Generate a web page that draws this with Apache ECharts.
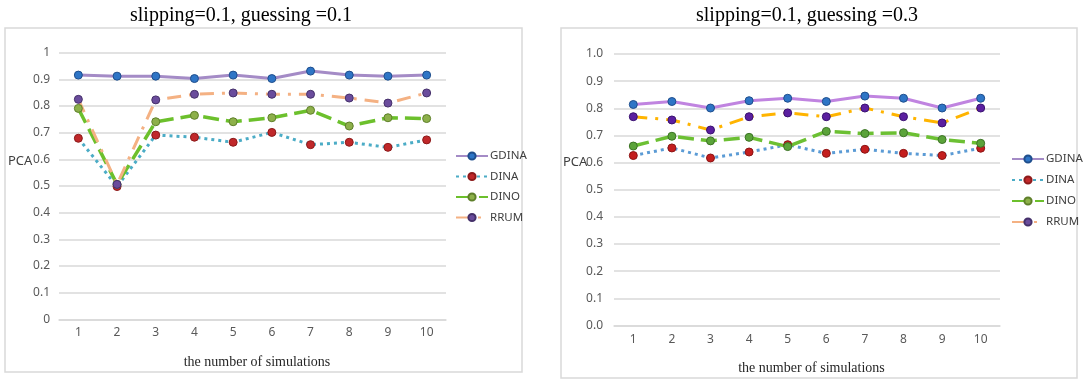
<!DOCTYPE html>
<html>
<head>
<meta charset="utf-8">
<script src="https://cdn.jsdelivr.net/npm/echarts@6/dist/echarts.min.js"></script>
<style>
html,body{margin:0;padding:0;background:#fff;}
#c{width:1084px;height:383px;}
</style>
</head>
<body>
<div id="c"></div>
<script>
// ---- data ----
var categories = ['1','2','3','4','5','6','7','8','9','10'];
var leftYTicks = ['0','0.1','0.2','0.3','0.4','0.5','0.6','0.7','0.8','0.9','1'];
var rightYTicks = ['0.0','0.1','0.2','0.3','0.4','0.5','0.6','0.7','0.8','0.9','1.0'];
var seriesNames = ['GDINA','DINA','DINO','RRUM'];

// slipping=0.1, guessing=0.1
var leftGDINA = [0.916,0.912,0.912,0.903,0.916,0.903,0.931,0.916,0.912,0.916];
var leftDINA  = [0.679,0.498,0.691,0.683,0.664,0.701,0.655,0.664,0.645,0.673];
var leftDINO  = [0.791,0.506,0.741,0.765,0.741,0.756,0.784,0.725,0.756,0.753];
var leftRRUM  = [0.825,0.506,0.823,0.844,0.849,0.844,0.844,0.830,0.811,0.849];

// slipping=0.1, guessing=0.3
var rightGDINA = [0.814,0.825,0.801,0.828,0.837,0.825,0.845,0.837,0.801,0.837];
var rightDINA  = [0.626,0.654,0.617,0.639,0.666,0.634,0.649,0.634,0.626,0.653];
var rightDINO  = [0.661,0.697,0.680,0.693,0.659,0.715,0.707,0.710,0.685,0.671];
var rightRRUM  = [0.769,0.757,0.720,0.769,0.783,0.769,0.801,0.769,0.746,0.801];

var titles = ['slipping=0.1, guessing =0.1', 'slipping=0.1, guessing =0.3'];
var xName = 'the number of simulations';
var yName = 'PCA';

// ---- styles ----
var sansFont = '"Noto Sans", "Liberation Sans", sans-serif';
var serifFont = '"Liberation Serif", "DejaVu Serif", serif';
var gridColor = '#D9D9D9';
var labelColor = '#595959';

var styles = [
  { // left chart
    GDINA: {line:'#A48BC6', fill:'#2E75C6', border:'#1F4E8C', type:'solid', width:3},
    DINA:  {line:'#4BACC6', fill:'#C0282A', border:'#8C1A1A', type:[3,4], width:3},
    DINO:  {line:'#6CC02C', fill:'#8DB04A', border:'#5E7F2A', type:[16,7], width:3.5},
    RRUM:  {line:'#F4B183', fill:'#6A4C9C', border:'#45306A', type:[14,8,3,8], width:3}
  },
  { // right chart
    GDINA: {line:'#C084E0', fill:'#2E75C6', border:'#1F4E8C', type:'solid', width:3},
    DINA:  {line:'#5B9BD5', fill:'#C41E1E', border:'#8C1414', type:[3,4], width:3},
    DINO:  {line:'#6CC033', fill:'#5BA33A', border:'#3D7426', type:[16,7], width:3.5},
    RRUM:  {line:'#FFB400', fill:'#5B1FA0', border:'#3A1270', type:[14,8,3,8], width:3}
  }
];

var dataSets = [
  {GDINA:leftGDINA, DINA:leftDINA, DINO:leftDINO, RRUM:leftRRUM},
  {GDINA:rightGDINA, DINA:rightDINA, DINO:rightDINO, RRUM:rightRRUM}
];

var series = [];
for (var g = 0; g < 2; g++) {
  seriesNames.forEach(function(n){
    var s = styles[g][n];
    series.push({
      name: n,
      type: 'line',
      xAxisIndex: g, yAxisIndex: g,
      data: dataSets[g][n],
      symbol: 'circle',
      symbolSize: 8,
      showSymbol: true,
      animation: false,
      lineStyle: {color: s.line, width: s.width, type: s.type},
      itemStyle: {color: s.fill, borderColor: s.border, borderWidth: 1},
      emphasis: {disabled: true}
    });
  });
}

function yAxisCfg(g, ticks, margin) {
  return {
    type: 'value', gridIndex: g, min: 0, max: 1, interval: 0.1,
    axisLine: {show: false}, axisTick: {show: false},
    splitLine: {lineStyle: {color: gridColor, width: 1.5}},
    axisLabel: {
      color: labelColor, fontFamily: sansFont, fontSize: 12, margin: margin,
      formatter: function(v){ return ticks[Math.round(v*10)]; }
    }
  };
}
function xAxisCfg(g, margin) {
  return {
    type: 'category', gridIndex: g, data: categories, boundaryGap: true,
    axisLine: {show: true, lineStyle: {color: gridColor, width: 1.5}},
    axisTick: {show: false},
    axisLabel: {color: labelColor, fontFamily: sansFont, fontSize: 12, margin: margin},
    name: xName, nameLocation: 'middle', nameGap: 36,
    nameTextStyle: {color: '#262626', fontFamily: serifFont, fontSize: 14, padding: [0,0,0,9]}
  };
}

var option = {
  backgroundColor: '#ffffff',
  animation: false,
  title: [
    {text: titles[0], left: 236, top: 1, textAlign: 'center',
     textStyle: {fontFamily: serifFont, fontSize: 20, fontWeight: 'normal', color: '#000'}},
    {text: titles[1], left: 802, top: 1, textAlign: 'center',
     textStyle: {fontFamily: serifFont, fontSize: 20, fontWeight: 'normal', color: '#000'}}
  ],
  grid: [
    {left: 59, top: 52.7, width: 387, height: 266.6},
    {left: 614, top: 54, width: 386, height: 271.5}
  ],
  xAxis: [xAxisCfg(0, 7), xAxisCfg(1, 8)],
  yAxis: [yAxisCfg(0, leftYTicks, 9), yAxisCfg(1, rightYTicks, 11)],
  legend: [
    {orient: 'vertical', left: 450, top: 145, itemWidth: 32, itemHeight: 9, itemGap: 8.5,
     data: seriesNames, textStyle: {color: '#404040', fontFamily: sansFont, fontSize: 11.5, padding: [0,0,0,-3]},
     selectedMode: false},
    {orient: 'vertical', left: 1006, top: 148, itemWidth: 32, itemHeight: 9, itemGap: 9,
     data: seriesNames, textStyle: {color: '#404040', fontFamily: sansFont, fontSize: 11.5, padding: [0,0,0,-3]},
     selectedMode: false}
  ],
  graphic: [
    {type: 'rect', shape: {x: 5, y: 28, width: 517, height: 344}, silent: true,
     style: {fill: 'none', stroke: gridColor, lineWidth: 1.5}},
    {type: 'rect', shape: {x: 561, y: 28, width: 516, height: 350}, silent: true,
     style: {fill: 'none', stroke: gridColor, lineWidth: 1.5}},
    {type: 'text', left: 8, top: 155, silent: true,
     style: {text: yName, fill: '#404040', font: '13px ' + sansFont}},
    {type: 'text', left: 563, top: 156, silent: true,
     style: {text: yName, fill: '#404040', font: '13px ' + sansFont}}
  ],
  series: series
};

var chart = echarts.init(document.getElementById('c'), null, {renderer: 'canvas'});
chart.setOption(option);
</script>
</body>
</html>
